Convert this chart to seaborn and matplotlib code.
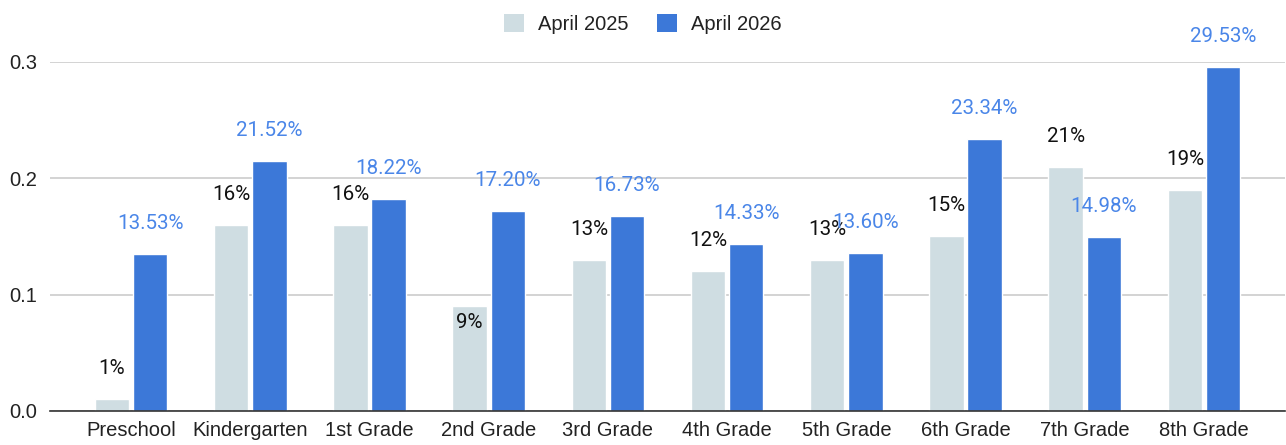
import pandas as pd
import matplotlib
matplotlib.use("Agg")
import matplotlib.pyplot as plt
import seaborn as sns
from matplotlib.patches import Patch

# data
grades = ["Preschool", "Kindergarten", "1st Grade", "2nd Grade", "3rd Grade",
          "4th Grade", "5th Grade", "6th Grade", "7th Grade", "8th Grade"]
april_2025 = [0.01, 0.16, 0.16, 0.09, 0.13, 0.12, 0.13, 0.15, 0.21, 0.19]
april_2026 = [0.1353, 0.2152, 0.1822, 0.1720, 0.1673, 0.1433, 0.1360, 0.2334, 0.1498, 0.2953]
series = ["April 2025", "April 2026"]

colors = {"April 2025": "#cfdde2", "April 2026": "#3c78d8"}
label_colors = {"April 2025": "#111111", "April 2026": "#4a86e8"}

df = pd.DataFrame({
    "Grade": grades * 2,
    "Series": [series[0]] * len(grades) + [series[1]] * len(grades),
    "Value": april_2025 + april_2026,
})

sns.set_style("white")
plt.rcParams["font.family"] = ["Liberation Sans", "DejaVu Sans"]

fig = plt.figure(figsize=(12.86, 4.45), dpi=100)
ax = fig.add_axes([50 / 1286, 34 / 445, 1235 / 1286, 349 / 445])

sns.barplot(data=df, x="Grade", y="Value", hue="Series", palette=colors,
            width=0.64, gap=0.1, saturation=1, ax=ax, legend=False)

ax.set_xlim(-0.68, 9.68)
ax.set_ylim(0, 0.3)
ax.set_yticks([0.0, 0.1, 0.2, 0.3])
ax.set_yticklabels(["0.0", "0.1", "0.2", "0.3"])
ax.yaxis.grid(True, color="#cccccc", linewidth=1.2)
ax.set_axisbelow(True)
for side in ["top", "right", "left"]:
    ax.spines[side].set_visible(False)
ax.spines["bottom"].set_color("#333333")
ax.spines["bottom"].set_linewidth(1.2)
ax.tick_params(axis="both", length=0, labelsize=14.5, colors="#222222")
ax.tick_params(axis="x", pad=7)
ax.tick_params(axis="y", pad=9)
ax.set_xlabel("")
ax.set_ylabel("")

# value labels, Google Sheets style
for cont, name in zip(ax.containers, series):
    vals = april_2025 if name == series[0] else april_2026
    for bar, v, g in zip(cont, vals, grades):
        if name == series[0]:
            txt = f"{v * 100:.0f}%"
        else:
            txt = f"{v * 100:.2f}%"
        dy = 22
        if name == series[0] and g == "2nd Grade":
            dy = -12
        ax.annotate(txt, (bar.get_x() + bar.get_width() / 2, bar.get_height()),
                    xytext=(0, dy), textcoords="offset points",
                    ha="center", va="center", fontsize=14.8,
                    family=["Roboto", "DejaVu Sans"],
                    color=label_colors[name], annotation_clip=False)

handles = [Patch(facecolor=colors[s], edgecolor="none", label=s) for s in series]
fig.legend(handles=handles, loc="upper center", bbox_to_anchor=(0.5, 1.01),
           ncol=2, frameon=False, fontsize=14.5, handlelength=1.0, handleheight=1.0,
           handletextpad=0.7, columnspacing=1.4, labelcolor="#222222")

fig.savefig("out.png", dpi=100)
